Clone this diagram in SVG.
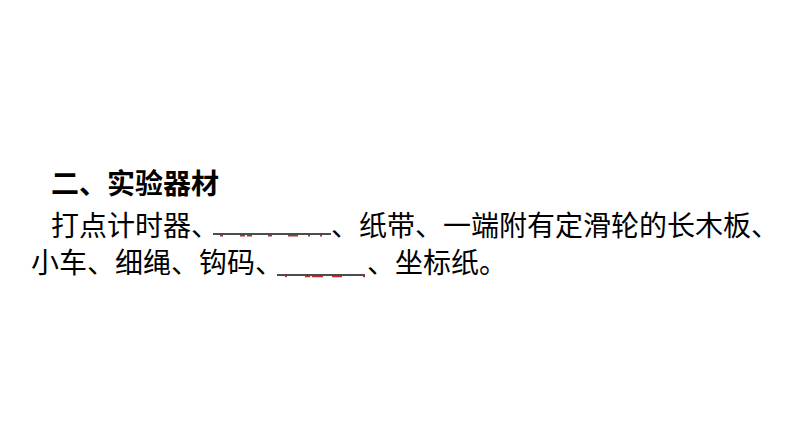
<svg xmlns="http://www.w3.org/2000/svg" width="794" height="446" viewBox="0 0 794 446">
<style>
.t{font-family:"Noto Sans CJK SC","Noto Sans CJK JP",sans-serif;font-size:28px;fill:#000}
.b{font-weight:bold}
.ul{stroke:#111;stroke-width:1.4}
.rd{stroke:#c0282e;stroke-width:1.4}
</style>
<rect width="794" height="446" fill="#fff"/>
<g id="title"><text class="t b" x="51" y="194">二、实验器材</text></g>
<g id="line1">
<text class="t" x="51" y="236">打点计时器、</text>
<line class="ul" x1="213" y1="234" x2="331" y2="234"/>
<text class="t" x="331" y="236">、纸带、一端附有定滑轮的长木板、</text>
</g>
<g id="line2">
<text class="t" x="31" y="273">小车、细绳、钩码、</text>
<line class="ul" x1="277" y1="275" x2="365" y2="275"/>
<text class="t" x="367" y="273">、坐标纸。</text>
</g>
<g id="marks">
<path class="rd" d="M220 235.8h3M240 235.8h5M247 235.8h5M268 235.8h4M288 235.8h10M308 235.8h2M320 235.8h2"/>
<path class="rd" d="M285 276.6h2M305 276.6h5M312 276.6h11M332 276.6h10M363 276.6h2"/>
</g>
</svg>
